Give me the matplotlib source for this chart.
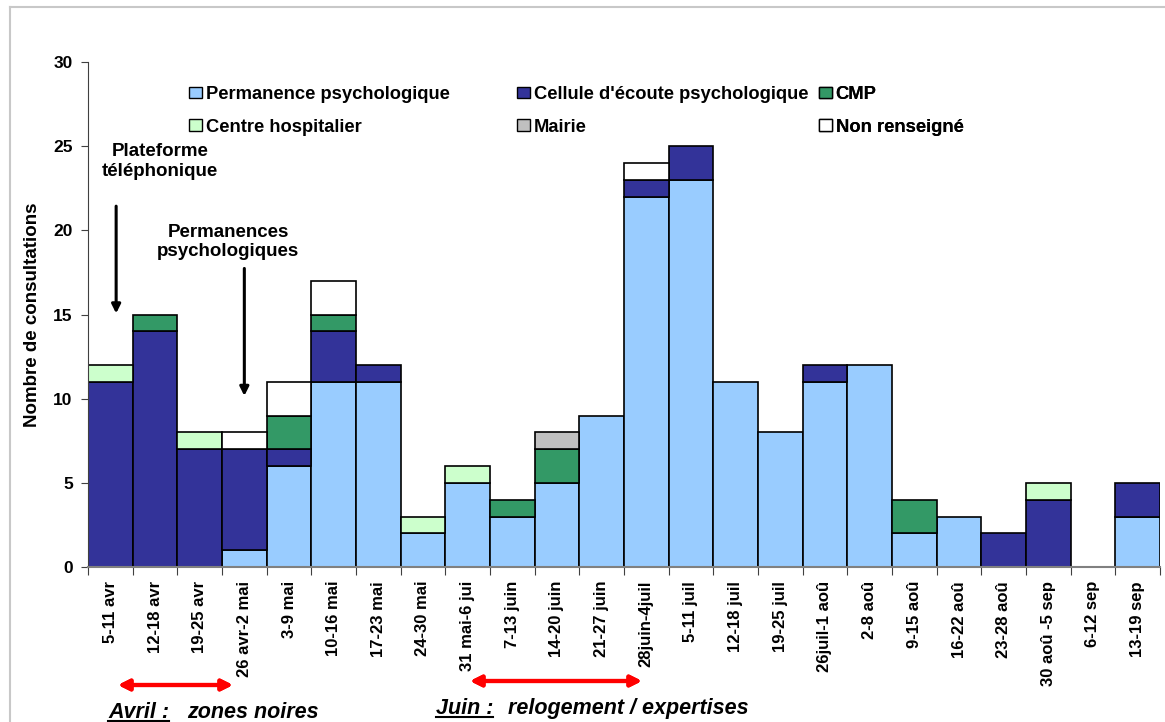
import matplotlib.pyplot as plt
import numpy as np
from matplotlib.lines import Line2D
from matplotlib.patches import Patch

plt.rc("font", family=["Liberation Sans", "DejaVu Sans"], weight="bold", size=12)

semaines = [
    "5-11 avr", "12-18 avr", "19-25 avr", "26 avr-2 mai", "3-9 mai", "10-16 mai",
    "17-23 mai", "24-30 mai", "31 mai-6 jui", "7-13 juin", "14-20 juin", "21-27 juin",
    "28juin-4juil", "5-11 juil", "12-18 juil", "19-25 juil", "26juil-1 aoû", "2-8 aoû",
    "9-15 aoû", "16-22 aoû", "23-28 aoû", "30 aoû -5 sep", "6-12 sep", "13-19 sep",
]

permanence = [0, 0, 0, 1, 6, 11, 11, 2, 5, 3, 5, 9, 22, 23, 11, 8, 11, 12, 2, 3, 0, 0, 0, 3]
cellule = [11, 14, 7, 6, 1, 3, 1, 0, 0, 0, 0, 0, 1, 2, 0, 0, 1, 0, 0, 0, 2, 4, 0, 2]
cmp_ = [0, 1, 0, 0, 2, 1, 0, 0, 0, 1, 2, 0, 0, 0, 0, 0, 0, 0, 2, 0, 0, 0, 0, 0]
centre_hosp = [1, 0, 1, 0, 0, 0, 0, 1, 1, 0, 0, 0, 0, 0, 0, 0, 0, 0, 0, 0, 0, 1, 0, 0]
mairie = [0, 0, 0, 0, 0, 0, 0, 0, 0, 0, 1, 0, 0, 0, 0, 0, 0, 0, 0, 0, 0, 0, 0, 0]
non_renseigne = [0, 0, 0, 1, 2, 2, 0, 0, 0, 0, 0, 0, 1, 0, 0, 0, 0, 0, 0, 0, 0, 0, 0, 0]

series = [
    ("Permanence psychologique", permanence, "#99CCFF"),
    ("Cellule d'écoute psychologique", cellule, "#333399"),
    ("CMP", cmp_, "#339966"),
    ("Centre hospitalier", centre_hosp, "#CCFFCC"),
    ("Mairie", mairie, "#C0C0C0"),
    ("Non renseigné", non_renseigne, "#FFFFFF"),
]

W, H = 1165, 722
fig = plt.figure(figsize=(W / 100, H / 100), dpi=100)
ax = fig.add_axes([88 / W, 1 - 567 / H, (1160 - 88) / W, (567 - 62) / H])

x = np.arange(len(semaines))
bottom = np.zeros(len(semaines))
for name, vals, col in series:
    vals = np.array(vals, dtype=float)
    m = vals > 0
    ax.bar(x[m], vals[m], width=1.0, bottom=bottom[m], color=col,
           edgecolor="black", linewidth=1.2, zorder=2)
    bottom += vals

ax.set_xlim(-0.5, len(semaines) - 0.5)
ax.set_ylim(0, 30)
ax.set_yticks(range(0, 31, 5))
ax.set_xticks(np.arange(-0.5, len(semaines), 1.0))
ax.set_xticklabels([])
ax.set_xticks(x, minor=True)
ax.set_xticklabels(semaines, minor=True, rotation=90, fontsize=12)
ax.tick_params(axis="x", which="major", length=6, color="#404040", direction="out")
ax.tick_params(axis="x", which="minor", length=0, pad=10)
ax.tick_params(axis="y", length=5, color="#404040", labelsize=12.5, pad=6)
for s in ["top", "right"]:
    ax.spines[s].set_visible(False)
ax.spines["left"].set_color("#404040")
ax.spines["bottom"].set_color("#808080")
ax.spines["bottom"].set_linewidth(1.5)

fig.text(33 / W, 1 - 315 / H, "Nombre de consultations", rotation=90,
         ha="center", va="center", fontsize=13.5)

# legend in three columns, placed by hand
handles = [Patch(facecolor=c, edgecolor="black", linewidth=1) for _, _, c in series]
labels = [n for n, _, _ in series]
cols = [(189, [0, 3]), (517, [1, 4]), (819, [2, 5])]
for xpix, idx in cols:
    leg = ax.legend([handles[i] for i in idx], [labels[i] for i in idx],
                    loc="upper left", bbox_to_anchor=(xpix / W, 1 - 86 / H),
                    bbox_transform=fig.transFigure, frameon=False, borderpad=0,
                    borderaxespad=0, handlelength=0.7, handleheight=0.6,
                    handletextpad=0.2, labelspacing=0.85, fontsize=13.25)
    ax.add_artist(leg)

# annotations with arrows
ax.text(1.11, 24.1, "Plateforme\ntéléphonique", ha="center", va="center", fontsize=13.5,
        linespacing=1.2)
ax.annotate("", xy=(0.13, 14.9), xytext=(0.13, 21.6),
            arrowprops=dict(arrowstyle="-|>", color="black", lw=2.2, mutation_scale=13))
ax.text(2.64, 19.3, "Permanences\npsychologiques", ha="center", va="center", fontsize=13.5,
        linespacing=1.2)
ax.annotate("", xy=(3.0, 10.0), xytext=(3.0, 17.9),
            arrowprops=dict(arrowstyle="-|>", color="black", lw=2.2, mutation_scale=13))

# bottom period markers
for x0, x1, yy in [(118, 233, 722 - 685), (470, 642, 722 - 681)]:
    fig.add_artist(plt.annotate("", xy=(x1, yy), xytext=(x0, yy),
                                xycoords="figure pixels", textcoords="figure pixels",
                                arrowprops=dict(arrowstyle="<|-|>", color="red", lw=3,
                                                mutation_scale=16, shrinkA=0, shrinkB=0)))

t1 = fig.text(108 / W, 4 / H, "Avril :", fontsize=15.5, style="italic", va="baseline")
fig.text(187 / W, 4 / H, "zones noires", fontsize=15.5, style="italic", va="baseline")
t2 = fig.text(436 / W, 8 / H, "Juin :", fontsize=15.5, style="italic", va="baseline")
fig.text(508 / W, 8 / H, "relogement / expertises", fontsize=15.5, style="italic", va="baseline")

fig.canvas.draw()
r = fig.canvas.get_renderer()
for t, yb in [(t1, 4), (t2, 8)]:
    bb = t.get_window_extent(r)
    fig.add_artist(Line2D([bb.x0 / W, bb.x1 / W], [(yb - 2.5) / H, (yb - 2.5) / H],
                          transform=fig.transFigure, color="black", lw=1.5))

# outer frame
fig.add_artist(Line2D([10 / W, 10 / W], [0, 1 - 7 / H], transform=fig.transFigure,
                      color="#C8C8C8", lw=1.5))
fig.add_artist(Line2D([10 / W, 1], [1 - 7 / H, 1 - 7 / H], transform=fig.transFigure,
                      color="#C8C8C8", lw=1.5))

fig.savefig("out.png", dpi=100)
